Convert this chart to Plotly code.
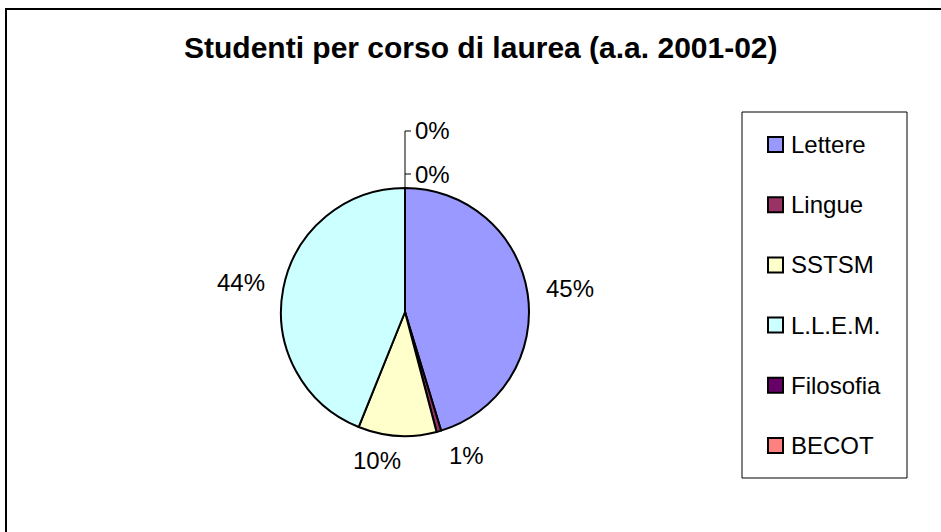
import math
import plotly.graph_objects as go

title = "Studenti per corso di laurea (a.a. 2001-02)"
categories = ["Lettere", "Lingue", "SSTSM", "L.L.E.M.", "Filosofia", "BECOT"]
values = [45.3, 0.6, 10.2, 43.9, 0.0, 0.0]
colors = ["#9999FF", "#993366", "#FFFFCC", "#CCFFFF", "#660066", "#FF8080"]

W, H = 941, 532
cx, cy, R = 405, 312, 124
FONT = "Arial, Liberation Sans, sans-serif"


def X(p):
    return p / W


def Y(p):
    return 1 - p / H


fig = go.Figure(go.Pie(
    labels=categories, values=values, sort=False, direction="clockwise", rotation=0,
    marker=dict(colors=colors, line=dict(color="black", width=2)),
    textinfo="none", hoverinfo="label+percent", showlegend=False,
    domain=dict(x=[X(cx - R), X(cx + R)], y=[Y(cy + R), Y(cy - R)]),
))

annotations = []
shapes = []

# Title
annotations.append(dict(x=X(481), y=Y(47), xref="paper", yref="paper", text="<b>" + title + "</b>",
                        showarrow=False, xanchor="center", yanchor="middle",
                        font=dict(family=FONT, size=30, color="black")))

# Percentage labels
total = sum(values)
cum = 0.0
zeros = []
for i, v in enumerate(values):
    if v == 0:
        zeros.append(i)
        cum += v
        continue
    mid = math.radians((cum + v / 2) / total * 360)
    cum += v
    s, c = math.sin(mid), math.cos(mid)
    r0 = R + 17 if abs(c) < 0.5 else R + 9
    ax, ay = cx + r0 * s, cy - r0 * c
    xa = "left" if s > 0.05 else ("right" if s < -0.05 else "center")
    ya = "middle" if abs(c) < 0.5 else ("top" if c < 0 else "bottom")
    if ya == "middle":
        ay -= 3
    else:
        ax += 6
    annotations.append(dict(x=X(ax), y=Y(ay), xref="paper", yref="paper",
                            text=f"{round(v / total * 100)}%", showarrow=False,
                            xanchor=xa, yanchor=ya,
                            font=dict(family=FONT, size=24, color="black")))

# Zero-value labels with leader lines at top
if zeros:
    ys = []
    for k, idx in enumerate(zeros):
        ly = cy - R - 14 - 43 * k
        ys.append(ly)
        shapes.append(dict(type="line", xref="paper", yref="paper",
                           x0=X(cx), x1=X(cx + 6), y0=Y(ly), y1=Y(ly),
                           line=dict(color="black", width=1)))
        annotations.append(dict(x=X(cx + 8), y=Y(ly), xref="paper", yref="paper",
                                text=f"{round(values[idx] / total * 100)}%", showarrow=False,
                                xanchor="left", yanchor="middle",
                                font=dict(family=FONT, size=24, color="black")))
    shapes.append(dict(type="line", xref="paper", yref="paper",
                       x0=X(cx), x1=X(cx), y0=Y(cy - R), y1=Y(min(ys)),
                       line=dict(color="black", width=1)))

# Outer chart border
shapes.append(dict(type="rect", xref="paper", yref="paper",
                   x0=X(6), x1=X(980), y0=Y(9), y1=Y(580),
                   line=dict(color="black", width=2)))

# Manual legend
shapes.append(dict(type="rect", xref="paper", yref="paper",
                   x0=X(742), x1=X(907), y0=Y(112), y1=Y(478),
                   line=dict(color="black", width=1), fillcolor="white"))
for i, (cat, col) in enumerate(zip(categories, colors)):
    ey = 144.5 + 60.2 * i
    shapes.append(dict(type="rect", xref="paper", yref="paper",
                       x0=X(768), x1=X(783), y0=Y(ey - 7.5), y1=Y(ey + 7.5),
                       line=dict(color="black", width=2), fillcolor=col))
    annotations.append(dict(x=X(789), y=Y(ey), xref="paper", yref="paper",
                            text=cat, showarrow=False, xanchor="left", yanchor="middle",
                            font=dict(family=FONT, size=24, color="black")))

fig.update_layout(
    width=W, height=H, margin=dict(l=0, r=0, t=0, b=0),
    paper_bgcolor="white", plot_bgcolor="white",
    showlegend=False, annotations=annotations, shapes=shapes,
)

fig.write_html("out.html", config={"displayModeBar": False},
               post_script="document.body.style.margin='0px';")
